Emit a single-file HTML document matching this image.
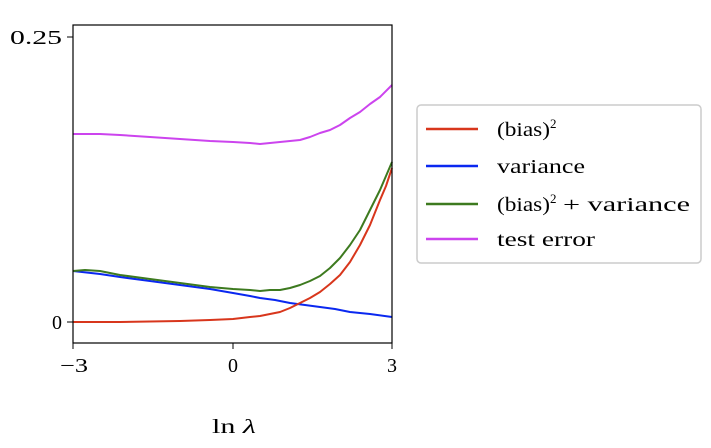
<!DOCTYPE html>
<html><head><style>
body{margin:0;background:#fff;}
svg text{font-family:"Liberation Serif",serif;fill:#000;}
</style></head><body>
<svg width="711" height="443" viewBox="0 0 711 443" xmlns="http://www.w3.org/2000/svg">
<g fill="none" stroke-width="2" stroke-linejoin="round">
<polyline stroke="#cc44ee" points="73,134 100,134 120,135 150,137 180,139 210,141 233,142 250,143 260,144 270,143 280,142 290,141 300,140 310,137 320,133 330,130 340,125 350,118 360,112 370,104 380,97 392,85"/>
<polyline stroke="#0a28f0" points="73,271 100,274 120,277 150,281 180,285 210,289 233,293 250,296 260,298 275,300 290,303 305,305 320,307 335,309 350,312 370,314 392,317"/>
<polyline stroke="#d8361c" points="73,322 120,322 180,321 210,320 233,319 250,317 260,316 270,314 280,312 290,308 300,303 310,298 320,292 330,284 340,275 350,262 360,245 370,225 380,200 386,186 392,168"/>
<polyline stroke="#3d7a1f" points="73,271 85,270 100,271 120,275 150,279 180,283 210,287 233,289 250,290 260,291 270,290 280,290 290,288 300,285 310,281 320,276 330,268 340,258 350,245 360,230 370,210 380,190 386,176 392,162"/>
</g>
<rect x="73" y="25" width="319" height="318" fill="none" stroke="#000" stroke-width="1.2"/>
<g stroke="#000" stroke-width="1">
<line x1="73" y1="343" x2="73" y2="349"/><line x1="233" y1="343" x2="233" y2="349"/><line x1="392" y1="343" x2="392" y2="349"/>
<line x1="67" y1="37" x2="73" y2="37"/><line x1="67" y1="322" x2="73" y2="322"/>
</g>
<g font-size="20">
<text x="60" y="372" textLength="28" lengthAdjust="spacingAndGlyphs">−3</text>
<text x="233" y="372" text-anchor="middle">0</text>
<text x="392" y="372" text-anchor="middle">3</text>
<text x="10" y="44" textLength="52" lengthAdjust="spacingAndGlyphs">0.25</text>
<text x="62" y="329" text-anchor="end">0</text>
<text x="212" y="433" textLength="44" lengthAdjust="spacingAndGlyphs">ln <tspan font-style="italic">λ</tspan></text>
</g>
<rect x="417" y="105" width="284" height="158" rx="4" fill="#fff" stroke="#ccc" stroke-width="1.5"/>
<g stroke-width="2.5">
<line x1="426" y1="129" x2="478" y2="129" stroke="#d8361c"/>
<line x1="426" y1="166" x2="478" y2="166" stroke="#0a28f0"/>
<line x1="426" y1="204" x2="478" y2="204" stroke="#3d7a1f"/>
<line x1="426" y1="239" x2="478" y2="239" stroke="#cc44ee"/>
</g>
<g font-size="20">
<text x="497" y="136"><tspan textLength="53" lengthAdjust="spacingAndGlyphs">(bias)</tspan><tspan font-size="13" dy="-8">2</tspan></text>
<text x="497" y="173" textLength="88" lengthAdjust="spacingAndGlyphs">variance</text>
<text x="497" y="211"><tspan textLength="53" lengthAdjust="spacingAndGlyphs">(bias)</tspan><tspan font-size="13" dy="-8">2</tspan><tspan dy="8" x="563" textLength="127" lengthAdjust="spacingAndGlyphs">+ variance</tspan></text>
<text x="497" y="246" textLength="98" lengthAdjust="spacingAndGlyphs">test error</text>
</g>
</svg>
</body></html>
